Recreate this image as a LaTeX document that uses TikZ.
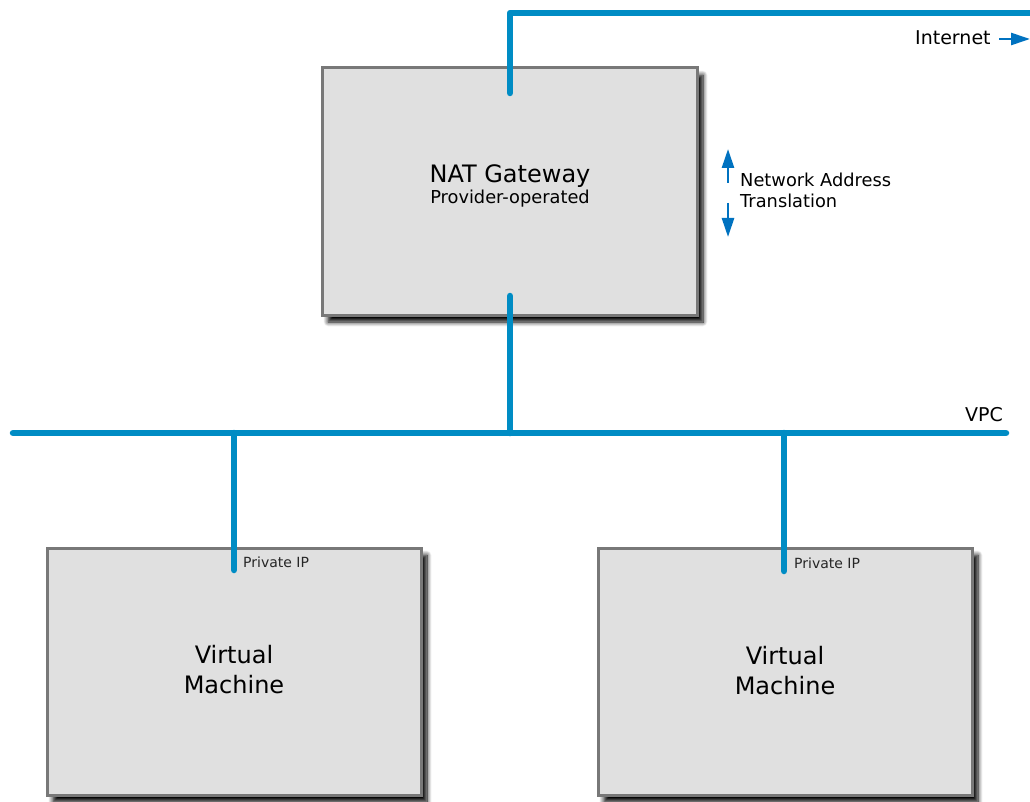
\documentclass[tikz,border=0pt]{standalone}
\usepackage{fontspec}
\setmainfont{DejaVu Sans}
\usetikzlibrary{shadows.blur,arrows.meta,calc}
\definecolor{netblue}{HTML}{008CC4}
\definecolor{arrblue}{HTML}{0072C0}
\definecolor{boxfill}{HTML}{E0E0E0}
\definecolor{boxline}{HTML}{787878}
\tikzset{
  hostbox/.style={draw=boxline, line width=3pt, fill=boxfill, inner sep=0pt,
    blur shadow={shadow xshift=6pt, shadow yshift=-7pt, shadow blur steps=10, shadow blur radius=4.5pt, shadow opacity=100}},
  net/.style={draw=netblue, line width=6.5pt, line cap=round, line join=round},
  smallarrow/.style={draw=arrblue, line width=2.6pt, -{Triangle[length=19pt,width=12pt]}},
  bigtext/.style={font=\fontsize{24}{30}\selectfont, align=center, inner sep=0pt},
  midtext/.style={font=\fontsize{17.8}{20}\selectfont, inner sep=0pt},
  smalltext/.style={font=\fontsize{14}{15}\selectfont, inner sep=0pt, text=black!85},
}
\begin{document}
\begin{tikzpicture}[x=1pt,y=-1pt]
\useasboundingbox (0,0) rectangle (1030,802);
% boxes
\node[hostbox, minimum width=375pt, minimum height=247pt] (nat) at (509.5,191.5) {};
\node[hostbox, minimum width=374pt, minimum height=247pt] (vm1) at (234,671.5) {};
\node[hostbox, minimum width=374pt, minimum height=247pt] (vm2) at (785,671.5) {};
% coordinates
\coordinate (natin) at (510,93);
\coordinate (corner) at (510,13);
\coordinate (inetend) at (1040,13);
\coordinate (natout) at (510,296);
\coordinate (busn) at (510,433);
\coordinate (busl) at (13,433);
\coordinate (busr) at (1006,433);
\coordinate (bus1) at (234,433);
\coordinate (vm1in) at (234,570);
\coordinate (bus2) at (784,433);
\coordinate (vm2in) at (784,571);
% network lines
\draw[net] (natin) -- (corner) -- (inetend);
\draw[net] (natout) -- (busn);
\draw[net] (busl) -- (busr);
\draw[net] (bus1) -- (vm1in);
\draw[net] (bus2) -- (vm2in);
% texts
\node[bigtext, anchor=base] (natname) at (510,183) {NAT Gateway};
\node[midtext, anchor=base] (natsub) at (510,204) {Provider-operated};
\node[bigtext, anchor=base] (vm1name) at (234,693) {Virtual\\Machine};
\node[bigtext, anchor=base] (vm2name) at (785,694) {Virtual\\Machine};
\node[smalltext, anchor=base west] (ip1) at (243,567) {Private IP};
\node[smalltext, anchor=base west] (ip2) at (794,568) {Private IP};
\node[font=\fontsize{19}{20}\selectfont, inner sep=0pt, anchor=base east] (vpc) at (1003,421) {VPC};
\node[font=\fontsize{19}{20}\selectfont, inner sep=0pt, anchor=base west] (inet) at (915,45) {Internet};
\coordinate (inetarrow) at (1030,39);
\coordinate (inetstart) at (999,39);
\draw[smallarrow] (inetstart) -- (inetarrow);
\node[midtext, anchor=base west, align=left] (nattrans) at (740,187) {Network Address};
\node[midtext, anchor=base west] (nattrans2) at (740,208) {Translation};
\coordinate (upbot) at (728,183);
\coordinate (uptop) at (728,149);
\coordinate (dntop) at (728,203);
\coordinate (dnbot) at (728,237);
\draw[smallarrow] (upbot) -- (uptop);
\draw[smallarrow] (dntop) -- (dnbot);
\end{tikzpicture}
\end{document}
